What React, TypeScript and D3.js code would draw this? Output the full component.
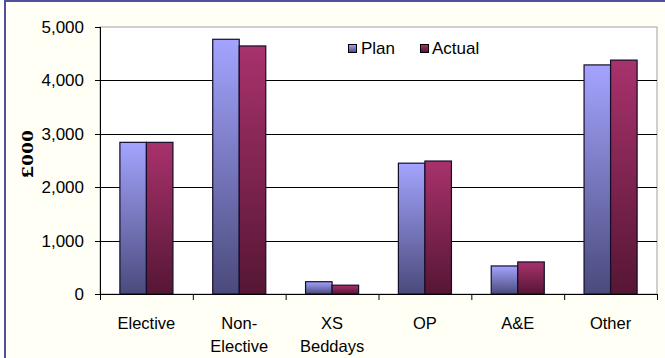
import { useMemo } from "react";
import * as d3 from "d3";

const WIDTH = 665;
const HEIGHT = 358;
const PLOT = { left: 100, right: 657, top: 27, bottom: 294 };

// data (£000)
const categories = ["Elective", "Non-Elective", "XS Beddays", "OP", "A&E", "Other"];
const categoryLines = [["Elective"], ["Non-", "Elective"], ["XS", "Beddays"], ["OP"], ["A&E"], ["Other"]];
const seriesNames = ["Plan", "Actual"];
const planValues = [2840, 4770, 230, 2450, 525, 4290];
const actualValues = [2840, 4645, 165, 2490, 600, 4380];
const yTicks = [0, 1000, 2000, 3000, 4000, 5000];

const COLORS: Record<string, [string, string]> = {
  Plan: ["#a4a4ff", "#4a4a7c"],
  Actual: ["#a8326c", "#561634"],
};

const FONT = "Arial, 'Liberation Sans', sans-serif";

const App = () => {
  const xScale = useMemo(
    () => d3.scaleBand<string>().domain(categories).range([PLOT.left, PLOT.right]).padding(0),
    []
  );
  const subScale = useMemo(
    () =>
      d3
        .scaleBand<string>()
        .domain(seriesNames)
        .range([0, xScale.bandwidth()])
        .paddingInner(0)
        .paddingOuter(0.75),
    [xScale]
  );
  const yScale = useMemo(
    () => d3.scaleLinear().domain([0, 5000]).range([PLOT.bottom, PLOT.top]),
    []
  );

  const rows = categories.map((c, i) => ({ category: c, Plan: planValues[i], Actual: actualValues[i] }));
  const fmt = d3.format(",");

  // tick positions at band edges
  const edges = categories.map((c) => xScale(c)!).concat([PLOT.right]);

  return (
    <svg
      width={WIDTH}
      height={HEIGHT}
      style={{ position: "fixed", left: 0, top: 0, background: "#ffffff" }}
      fontFamily={FONT}
    >
      <defs>
        {seriesNames.map((s) => (
          <linearGradient key={s} id={`grad-${s}`} x1="0" y1="0" x2="0" y2="1">
            <stop offset="0%" stopColor={COLORS[s][0]} />
            <stop offset="100%" stopColor={COLORS[s][1]} />
          </linearGradient>
        ))}
      </defs>

      {/* chart frame (right and bottom edges fall outside the picture) */}
      <rect x={5} y={1} width={WIDTH + 20} height={HEIGHT + 20} fill="#fffff6" stroke="#5050a0" strokeWidth={2} />

      {/* plot area */}
      <rect
        x={PLOT.left}
        y={PLOT.top}
        width={PLOT.right - PLOT.left}
        height={PLOT.bottom - PLOT.top}
        fill="#ffffff"
        stroke="#a0a0a0"
        strokeWidth={1}
      />

      {/* gridlines */}
      {yTicks
        .filter((t) => t > 0 && t < 5000)
        .map((t) => (
          <line
            key={t}
            x1={PLOT.left}
            x2={PLOT.right}
            y1={Math.round(yScale(t)) + 0.5}
            y2={Math.round(yScale(t)) + 0.5}
            stroke="#000"
            strokeWidth={1}
          />
        ))}

      {/* bars */}
      {rows.map((r) => (
        <g key={r.category}>
          {seriesNames.map((s) => {
            const v = r[s as "Plan" | "Actual"];
            return (
              <rect
                key={s}
                x={xScale(r.category)! + subScale(s)!}
                y={yScale(v)}
                width={subScale.bandwidth()}
                height={yScale(0) - yScale(v)}
                fill={`url(#grad-${s})`}
                stroke="#150c2a"
                strokeWidth={1.2}
              />
            );
          })}
        </g>
      ))}

      {/* y axis */}
      <line x1={PLOT.left + 0.5} x2={PLOT.left + 0.5} y1={PLOT.top} y2={PLOT.bottom} stroke="#000" />
      {yTicks.map((t) => (
        <g key={t}>
          <line
            x1={PLOT.left - 5}
            x2={PLOT.left}
            y1={Math.round(yScale(t)) + 0.5}
            y2={Math.round(yScale(t)) + 0.5}
            stroke="#000"
          />
          <text x={84} y={yScale(t) + 6} textAnchor="end" fontSize={17} fill="#000">
            {fmt(t)}
          </text>
        </g>
      ))}

      {/* x axis */}
      <line x1={PLOT.left} x2={PLOT.right} y1={PLOT.bottom + 0.5} y2={PLOT.bottom + 0.5} stroke="#000" />
      {edges.map((x, i) => (
        <line key={i} x1={x + 0.5} x2={x + 0.5} y1={PLOT.bottom} y2={PLOT.bottom + 6} stroke="#000" />
      ))}
      {categories.map((c, i) => (
        <text
          key={c}
          x={xScale(c)! + xScale.bandwidth() / 2}
          y={329}
          textAnchor="middle"
          fontSize={16.5}
          fill="#000"
        >
          {categoryLines[i].map((line, j) => (
            <tspan key={j} x={xScale(c)! + xScale.bandwidth() / 2} dy={j === 0 ? 0 : 23}>
              {line}
            </tspan>
          ))}
        </text>
      ))}

      {/* y axis title */}
      <text
        transform="translate(33,154) rotate(-90)"
        textAnchor="middle"
        fontFamily="'Liberation Serif', 'Times New Roman', serif"
        fontWeight="bold"
        fontSize={17}
        textLength={48}
        lengthAdjust="spacingAndGlyphs"
        fill="#000"
      >
        £000
      </text>

      {/* legend */}
      <g>
        <rect x={348.5} y={44.5} width={8} height={8} fill="url(#grad-Plan)" stroke="#000" />
        <text x={361} y={54} fontSize={17} fill="#000">
          Plan
        </text>
        <rect x={420.5} y={44.5} width={8} height={8} fill="url(#grad-Actual)" stroke="#000" />
        <text x={432} y={54} fontSize={17} fill="#000">
          Actual
        </text>
      </g>
    </svg>
  );
};

export default App;
